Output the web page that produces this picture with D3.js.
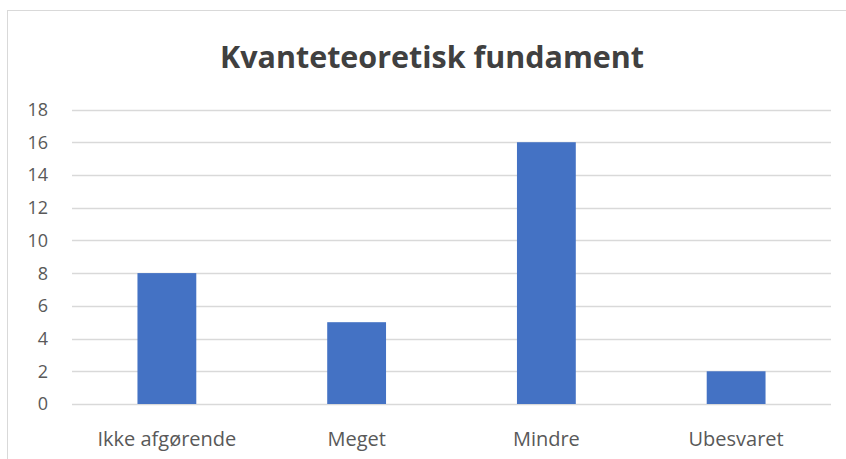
<!DOCTYPE html>
<html>
<head>
<meta charset="utf-8">
<script src="https://cdn.jsdelivr.net/npm/d3@7"></script>
<style>
  body { margin: 0; background: #fff; }
  text { font-family: "Open Sans", "Noto Sans", sans-serif; }
</style>
</head>
<body>
<div id="container"></div>
<script>
// data
var categories = ['Ikke afgørende', 'Meget', 'Mindre', 'Ubesvaret'];
var counts = [8, 5, 16, 2];
var yTicks = [0, 2, 4, 6, 8, 10, 12, 14, 16, 18];
var chartTitle = 'Kvanteteoretisk fundament';

var w = 846,
    h = 459;
var plot = {left: 72, right: 831, top: 109.5, bottom: 404};

var svg = d3.select('#container')
            .append('svg')
            .attr('width', w)
            .attr('height', h);

// chart frame (runs off to the right and bottom)
svg.append('rect')
   .attr('x', 7.5)
   .attr('y', 10.5)
   .attr('width', 860)
   .attr('height', 470)
   .attr('fill', '#fff')
   .attr('stroke', '#d9d9d9')
   .attr('stroke-width', 1);

var x = d3.scaleBand()
          .domain(categories)
          .range([plot.left, plot.right])
          .paddingInner(0.69)
          .paddingOuter(0.345);

var y = d3.scaleLinear()
          .domain([0, 18])
          .range([plot.bottom, plot.top]);

// gridlines
svg.append('g')
   .selectAll('line')
   .data(yTicks)
   .enter()
   .append('line')
   .attr('x1', plot.left)
   .attr('x2', plot.right)
   .attr('y1', function(d) { return Math.round(y(d)) + 0.5; })
   .attr('y2', function(d) { return Math.round(y(d)) + 0.5; })
   .attr('stroke', '#d9d9d9')
   .attr('stroke-width', 1.3);

// y labels
svg.append('g')
   .selectAll('text')
   .data(yTicks)
   .enter()
   .append('text')
   .attr('x', 48)
   .attr('y', function(d) { return y(d); })
   .attr('dy', '0.36em')
   .attr('text-anchor', 'end')
   .attr('font-size', 18)
   .attr('fill', '#595959')
   .text(function(d) { return d; });

// bars
svg.append('g')
   .selectAll('rect')
   .data(counts)
   .enter()
   .append('rect')
   .attr('x', function(d, i) { return x(categories[i]); })
   .attr('width', x.bandwidth())
   .attr('y', function(d) { return y(d); })
   .attr('height', function(d) { return y(0) - y(d); })
   .attr('fill', '#4472c4');

// category labels
svg.append('g')
   .selectAll('text')
   .data(categories)
   .enter()
   .append('text')
   .attr('x', function(d) { return x(d) + x.bandwidth() / 2; })
   .attr('y', 446)
   .attr('text-anchor', 'middle')
   .attr('font-size', 20)
   .attr('fill', '#595959')
   .text(function(d) { return d; });

// title
svg.append('text')
   .attr('x', 432)
   .attr('y', 68)
   .attr('text-anchor', 'middle')
   .attr('font-size', 31)
   .attr('font-weight', 'bold')
   .attr('fill', '#404040')
   .attr('textLength', 424)
   .attr('lengthAdjust', 'spacingAndGlyphs')
   .text(chartTitle);
</script>
</body>
</html>
